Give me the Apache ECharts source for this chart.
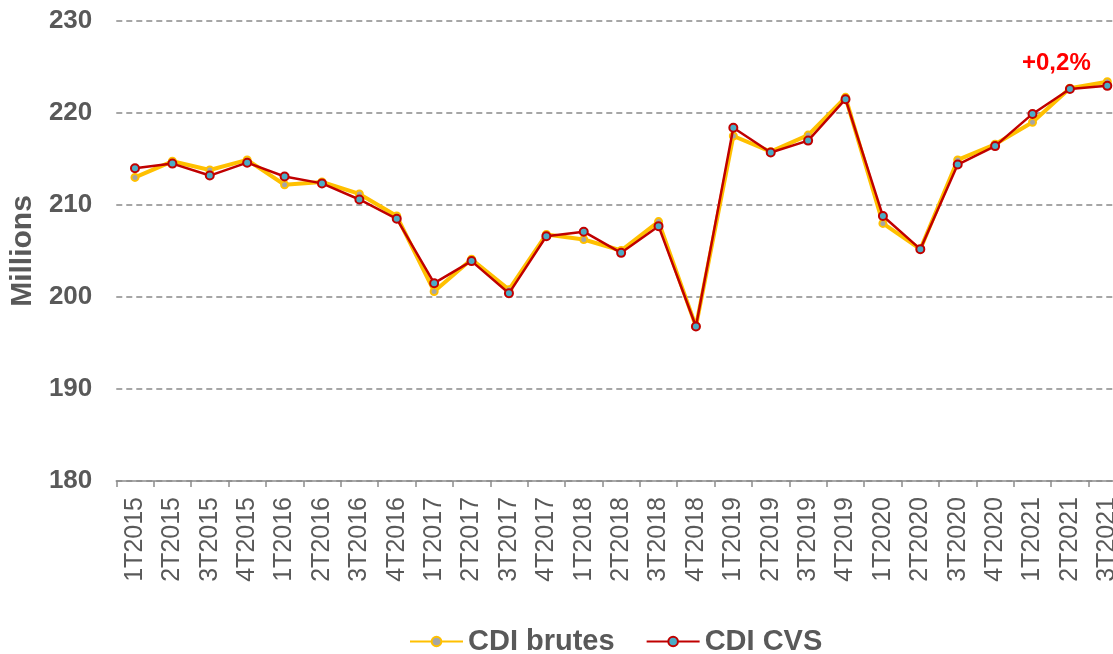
<!DOCTYPE html>
<html>
<head>
<meta charset="utf-8">
<script src="https://cdn.jsdelivr.net/npm/echarts@6/dist/echarts.min.js"></script>
<style>
    html, body { margin: 0; padding: 0; background: #fff; overflow: hidden; }
    /* the original picture is cut on the right, so the chart is a bit wider than the window */
    #chart { width: 1130px; height: 654px; }
</style>
</head>
<body>
<div id="chart"></div>
<script>
    // trimestres
    var categories = ['1T2015', '2T2015', '3T2015', '4T2015', '1T2016', '2T2016', '3T2016', '4T2016',
        '1T2017', '2T2017', '3T2017', '4T2017', '1T2018', '2T2018', '3T2018', '4T2018',
        '1T2019', '2T2019', '3T2019', '4T2019', '1T2020', '2T2020', '3T2020', '4T2020',
        '1T2021', '2T2021', '3T2021'];

    // millions
    var cdiBrutes = [213.0, 214.75, 213.8, 214.9, 212.2, 212.5, 211.2, 208.8,
        200.6, 204.1, 200.8, 206.8, 206.25, 205.05, 208.2, 196.8,
        217.5, 215.8, 217.6, 221.7, 208.0, 205.2, 214.9, 216.6,
        219.0, 222.7, 223.4];
    var cdiCvs = [214.0, 214.5, 213.2, 214.6, 213.1, 212.35, 210.6, 208.5,
        201.5, 203.9, 200.4, 206.6, 207.1, 204.8, 207.7, 196.8,
        218.4, 215.7, 217.0, 221.5, 208.8, 205.2, 214.4, 216.4,
        219.9, 222.6, 222.95];

    var yTicks = [180, 190, 200, 210, 220, 230];
    var note = '+0,2%';

    var chart = echarts.init(document.getElementById('chart'));
    var grey = '#595959';
    var font = 'Liberation Sans, Arial, sans-serif';

    chart.setOption({
        animation: false,
        textStyle: { fontFamily: font },
        grid: { left: 115, top: 21, width: 1011, height: 460, containLabel: false },
        legend: {
            top: 622,
            left: 404,
            itemWidth: 53,
            itemHeight: 12,
            itemGap: 31,
            textStyle: { color: grey, fontSize: 29, fontWeight: 'bold' },
            data: ['CDI brutes', 'CDI CVS']
        },
        xAxis: {
            type: 'category',
            data: categories,
            boundaryGap: true,
            axisLine: { lineStyle: { color: '#8c8c8c', width: 1.5 } },
            axisTick: { show: true, length: 6, lineStyle: { color: '#8c8c8c', width: 1.5 } },
            axisLabel: { rotate: 90, interval: 0, color: grey, fontSize: 25, margin: 16 },
            splitLine: { show: false }
        },
        yAxis: {
            type: 'value',
            min: yTicks[0],
            max: yTicks[yTicks.length - 1],
            interval: 10,
            name: 'Millions',
            nameLocation: 'middle',
            nameGap: 73,
            nameRotate: 90,
            nameTextStyle: { color: grey, fontSize: 30, fontWeight: 'bold' },
            axisLine: { show: false },
            axisTick: { show: false },
            axisLabel: { color: grey, fontSize: 26, fontWeight: 'bold', margin: 24 },
            splitLine: { show: true, lineStyle: { color: '#a6a6a6', width: 2, type: [6, 4] } }
        },
        series: [{
            name: 'CDI brutes',
            type: 'line',
            data: cdiBrutes,
            symbol: 'circle',
            symbolSize: 7,
            lineStyle: { color: '#FFC000', width: 4 },
            itemStyle: { color: '#A5A5A5', borderColor: '#FFC000', borderWidth: 2 },
            z: 2
        }, {
            name: 'CDI CVS',
            type: 'line',
            data: cdiCvs,
            symbol: 'circle',
            symbolSize: 8,
            lineStyle: { color: '#C00000', width: 2.5 },
            itemStyle: { color: '#4BACC6', borderColor: '#C00000', borderWidth: 2 },
            z: 3
        }],
        graphic: [{
            type: 'text',
            x: 1022,
            y: 63,
            style: {
                text: note, fill: '#FF0000', fontSize: 24, fontWeight: 'bold',
                fontFamily: font, verticalAlign: 'middle'
            }
        }]
    });
</script>
</body>
</html>
